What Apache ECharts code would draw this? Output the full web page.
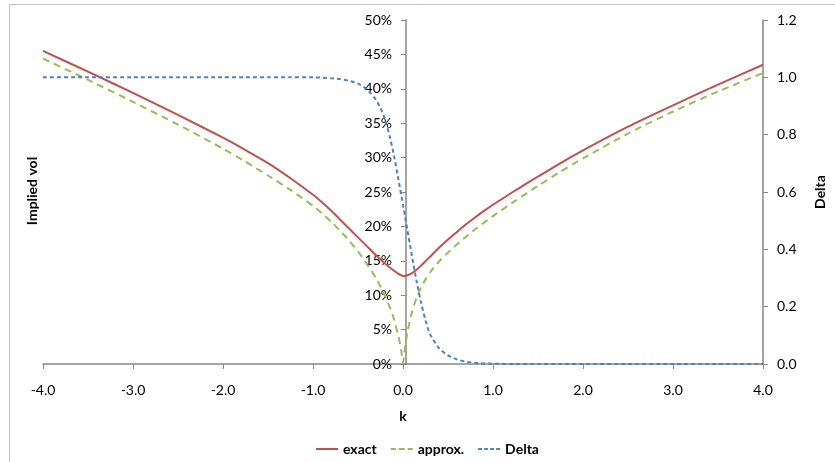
<!DOCTYPE html>
<html>
<head>
<meta charset="utf-8">
<script src="https://cdn.jsdelivr.net/npm/echarts@6/dist/echarts.min.js"></script>
<style>
html,body{margin:0;padding:0;background:#fff;}
#chart{width:835px;height:462px;}
</style>
</head>
<body>
<div id="chart"></div>
<script>
var kValues = [-4, -3.5, -3, -2.5, -2, -1.75, -1.5, -1.25, -1, -0.9, -0.8, -0.7, -0.6, -0.5, -0.4, -0.3, -0.25, -0.2, -0.15, -0.1, -0.05, -0.02, 0, 0.02, 0.05, 0.1, 0.15, 0.2, 0.25, 0.3, 0.4, 0.5, 0.6, 0.7, 0.8, 0.9, 1, 1.25, 1.5, 1.75, 2, 2.5, 3, 3.5, 4];
var exactVol = [45.5, 42.5, 39.4, 36.2, 32.9, 31.1, 29.2, 27.0, 24.6, 23.5, 22.3, 21.0, 19.7, 18.4, 17.1, 15.8, 15.2, 14.6, 14.05, 13.55, 13.1, 12.9, 12.8, 12.8, 12.9, 13.2, 13.7, 14.3, 14.95, 15.6, 16.9, 18.1, 19.2, 20.3, 21.3, 22.25, 23.15, 25.25, 27.25, 29.2, 31.05, 34.5, 37.6, 40.6, 43.5];
var approxVol = [44.4, 41.3, 38.1, 34.8, 31.3, 29.4, 27.4, 25.3, 23.0, 21.9, 20.7, 19.4, 17.95, 16.35, 14.55, 12.45, 11.25, 9.9, 8.35, 6.5, 4.0, 2.0, 0.2, 2.2, 4.7, 7.6, 9.6, 11.1, 12.3, 13.3, 14.9, 16.2, 17.4, 18.5, 19.55, 20.55, 21.5, 23.75, 25.9, 27.95, 29.9, 33.5, 36.7, 39.6, 42.3];
var deltaVals = [1, 1, 1, 1, 1, 1, 1, 1, 1, 0.999, 0.997, 0.994, 0.988, 0.978, 0.958, 0.922, 0.893, 0.853, 0.797, 0.727, 0.642, 0.59, 0.555, 0.52, 0.465, 0.375, 0.29, 0.215, 0.152, 0.104, 0.055, 0.03, 0.016, 0.008, 0.004, 0.002, 0.001, 0, 0, 0, 0, 0, 0, 0, 0];
var seriesNames = ['exact', 'approx.', 'Delta'];

function pairs(ys) { return kValues.map(function (k, i) { return [k, ys[i]]; }); }

var FONT = 'Lato';
var GRID = { left: 43, right: 66, top: 20, bottom: 98 };
var plotW = 835 - GRID.left - GRID.right;
var chart = echarts.init(document.getElementById('chart'));
chart.setOption({
  animation: false,
  backgroundColor: '#ffffff',
  textStyle: { fontFamily: FONT },
  grid: GRID,
  graphic: [
    { type: 'rect', shape: { x: 9.5, y: 4.5, width: 900, height: 600 }, style: { fill: 'none', stroke: '#c4c4c4', lineWidth: 1 }, silent: true, z: -10 },
    { type: 'text', x: 32, y: 191, rotation: Math.PI / 2, style: { text: 'Implied vol', font: 'bold 14px Lato', fill: '#000', textAlign: 'center', textVerticalAlign: 'middle' } }
  ],
  legend: {
    data: [
      { name: seriesNames[0], icon: 'path://M0,0h22v2h-22z' },
      { name: seriesNames[1], icon: 'path://M0,0h5v2h-5z M8,0h6v2h-6z M17,0h5v2h-5z' },
      { name: seriesNames[2], icon: 'path://M0,0h4v2h-4z M6,0h4v2h-4z M12,0h4v2h-4z M18,0h4v2h-4z' }
    ],
    left: 311, top: 437,
    itemWidth: 22, itemHeight: 2, itemGap: 14,
    textStyle: { fontFamily: FONT, fontWeight: 'bold', fontSize: 14, color: '#000' }
  },
  xAxis: {
    type: 'value', min: -4, max: 4, interval: 1,
    name: 'k', nameLocation: 'middle', nameGap: 45,
    nameTextStyle: { fontFamily: FONT, fontWeight: 'bold', fontSize: 14, color: '#000' },
    axisLine: { onZero: false, lineStyle: { color: '#868686', width: 1.5 } },
    axisTick: { show: true, length: 5, lineStyle: { color: '#868686' } },
    axisLabel: { margin: 19, fontSize: 14, color: '#000', fontFamily: FONT, formatter: function (v) { return v.toFixed(1); } },
    splitLine: { show: false }
  },
  yAxis: [
    {
      type: 'value', min: 0, max: 50, interval: 5, position: 'left', offset: -plotW / 2,
      axisLine: { show: true, onZero: false, lineStyle: { color: '#868686', width: 1.5 } },
      axisTick: { show: true, length: 5, lineStyle: { color: '#868686' } },
      axisLabel: { margin: 14, fontSize: 14, color: '#000', fontFamily: FONT, formatter: function (v) { return v + '%'; } },
      splitLine: { show: false }
    },
    {
      type: 'value', min: 0, max: 1.2, interval: 0.2, position: 'right',
      name: 'Delta', nameLocation: 'middle', nameGap: 50, nameRotate: 90,
      nameTextStyle: { fontFamily: FONT, fontWeight: 'bold', fontSize: 14, color: '#000' },
      axisLine: { show: true, onZero: false, lineStyle: { color: '#868686', width: 1.5 } },
      axisTick: { show: true, length: 5, lineStyle: { color: '#868686' } },
      axisLabel: { margin: 14, fontSize: 14, color: '#000', fontFamily: FONT, formatter: function (v) { return v.toFixed(1); } },
      splitLine: { show: false }
    }
  ],
  series: [
    { name: seriesNames[0], type: 'line', yAxisIndex: 0, data: pairs(exactVol), symbol: 'none', smooth: 0.2,
      lineStyle: { color: '#C0504D', width: 2 }, itemStyle: { color: '#C0504D' }, z: 3 },
    { name: seriesNames[1], type: 'line', yAxisIndex: 0, data: pairs(approxVol), symbol: 'none', smooth: 0.2,
      lineStyle: { color: '#9BBB59', width: 2, type: [7, 5] }, itemStyle: { color: '#9BBB59' }, z: 2 },
    { name: seriesNames[2], type: 'line', yAxisIndex: 1, data: pairs(deltaVals), symbol: 'none', smooth: 0.2,
      lineStyle: { color: '#4F81BD', width: 2, type: [4, 3] }, itemStyle: { color: '#4F81BD' }, z: 4 }
  ]
});
</script>
</body>
</html>
